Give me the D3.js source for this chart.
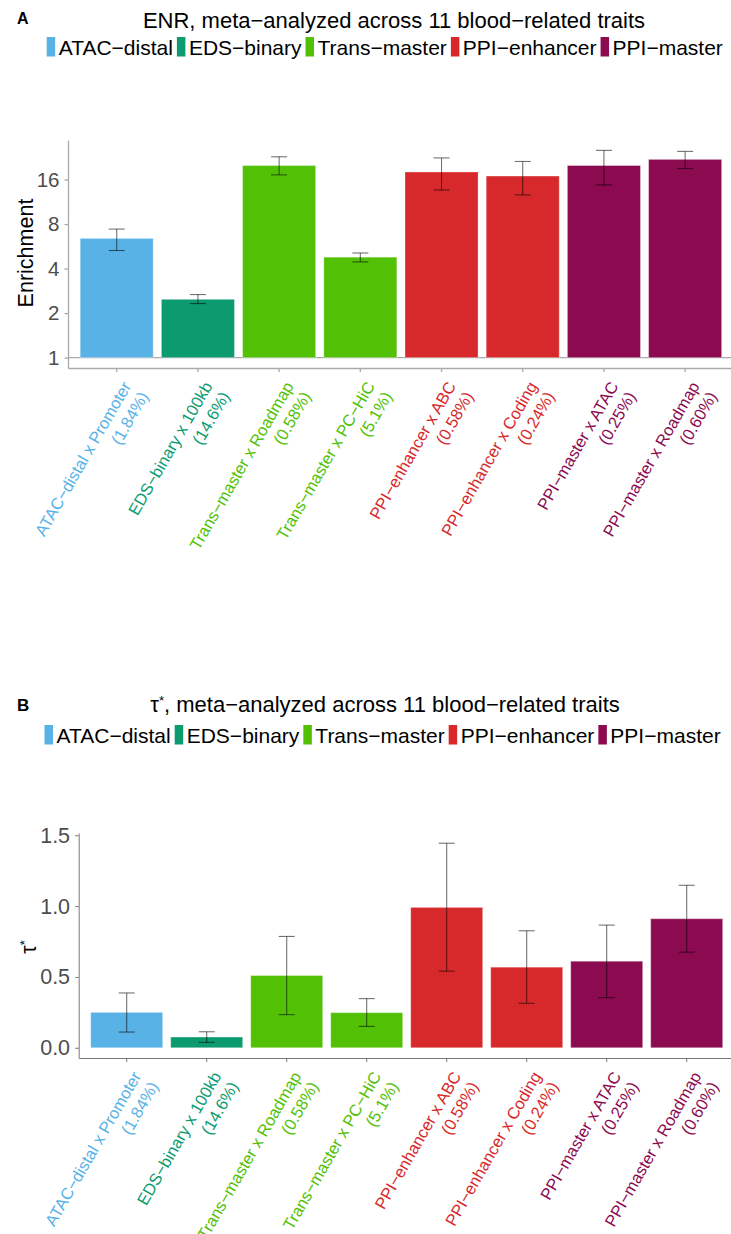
<!DOCTYPE html>
<html>
<head>
<meta charset="utf-8">
<script src="https://cdn.jsdelivr.net/npm/d3@7/dist/d3.min.js"></script>
<style>
  body { margin: 0; background: #fff; }
  svg { display: block; font-family: "Liberation Sans", Arial, Helvetica, sans-serif; }
</style>
</head>
<body>
<svg id="chart" width="731" height="1234"></svg>
<script>
const categories = ['ATAC−distal', 'EDS−binary', 'Trans−master', 'PPI−enhancer', 'PPI−master'];
const palette = ['#58B2E6', '#0B9B6F', '#52C106', '#D7292B', '#8B0A50'];

const annotations = [
  'ATAC−distal x Promoter', 'EDS−binary x 100kb', 'Trans−master x Roadmap', 'Trans−master x PC−HiC',
  'PPI−enhancer x ABC', 'PPI−enhancer x Coding', 'PPI−master x ATAC', 'PPI−master x Roadmap'
];
const annotGroup = ['ATAC−distal', 'EDS−binary', 'Trans−master', 'Trans−master',
  'PPI−enhancer', 'PPI−enhancer', 'PPI−master', 'PPI−master'];
const annotShare = ['1.84%', '14.6%', '0.58%', '5.1%', '0.58%', '0.24%', '0.25%', '0.60%'];

// panel A: enrichment (log2 axis)
const enrValues = [6.4, 2.48, 19.9, 4.78, 18.0, 16.9, 19.9, 21.9];
const enrLower = [5.3, 2.32, 17.2, 4.44, 13.6, 12.6, 14.7, 19.0];
const enrUpper = [7.4, 2.67, 22.8, 5.1, 22.4, 21.2, 25.2, 24.8];
const enrTicks = [1, 2, 4, 8, 16];

// panel B: tau*
const tauValues = [0.25, 0.076, 0.51, 0.248, 0.991, 0.569, 0.611, 0.911];
const tauLower = [0.111, 0.038, 0.234, 0.151, 0.541, 0.314, 0.354, 0.675];
const tauUpper = [0.387, 0.113, 0.786, 0.347, 1.444, 0.826, 0.866, 1.147];
const tauTicks = [0, 0.5, 1.0, 1.5];

let svg = d3.select('#chart');
let color = d3.scaleOrdinal().domain(categories).range(palette);

function tauLabel(sel) {
  sel.append('tspan').text('τ');
  sel.append('tspan').attr('baseline-shift', 'super').attr('font-size', '0.6em').text('*');
}

function drawPanel(cfg) {
  let g = svg.append('g');

  g.append('text')
    .attr('x', 17).attr('y', cfg.letterY)
    .attr('font-weight', 'bold').attr('font-size', cfg.letterSize)
    .text(cfg.letter);

  let title = g.append('text')
    .attr('x', cfg.titleX).attr('y', cfg.titleY)
    .attr('text-anchor', 'middle').attr('font-size', 22);
  if (cfg.titleTau) {
    tauLabel(title);
    title.append('tspan').text(', meta−analyzed across 11 blood−related traits');
  } else {
    title.text('ENR, meta−analyzed across 11 blood−related traits');
  }

  // legend row, laid out from measured text widths
  let lx = cfg.legendX;
  categories.forEach(c => {
    g.append('rect')
      .attr('x', lx).attr('y', cfg.legendY - 10)
      .attr('width', 8.5).attr('height', 19.5)
      .attr('fill', color(c));
    let t = g.append('text')
      .attr('x', lx + 12).attr('y', cfg.legendY + 7.5)
      .attr('font-size', 21)
      .text(c);
    lx += 12 + t.node().getComputedTextLength() + 4;
  });

  let x = d3.scaleBand()
    .domain(annotations)
    .range([cfg.left, cfg.left + 8.2 * cfg.step])
    .paddingInner(0.1)
    .paddingOuter(0.15);

  let y = cfg.yScale;

  // axes
  let yAxis = g.append('g')
    .attr('transform', 'translate(' + cfg.left + ',0)')
    .call(d3.axisLeft(y).tickValues(cfg.ticks).tickSize(3.5).tickSizeOuter(0).tickFormat(cfg.tickFormat));
  let xAxis = g.append('g')
    .attr('transform', 'translate(0,' + cfg.bottom + ')')
    .call(d3.axisBottom(x).tickSize(4).tickSizeOuter(0).tickFormat(''));
  [yAxis, xAxis].forEach(a => {
    a.select('.domain').attr('stroke', cfg.axisColor).attr('stroke-width', cfg.axisWidth);
    a.selectAll('.tick line').attr('stroke', cfg.axisColor).attr('stroke-width', cfg.axisWidth);
  });
  yAxis.selectAll('.tick text')
    .attr('font-size', cfg.tickSize)
    .attr('fill', '#4d4d4d')
    .attr('font-family', null)
    .attr('dx', '-0.1em');

  if (cfg.baseLine) {
    g.append('line')
      .attr('x1', cfg.left).attr('x2', x.range()[1])
      .attr('y1', y(cfg.base)).attr('y2', y(cfg.base))
      .attr('stroke', cfg.axisColor).attr('stroke-width', cfg.axisWidth);
  }

  // bars
  g.selectAll('rect.bar')
    .data(annotations)
    .enter()
    .append('rect')
    .attr('class', 'bar')
    .attr('x', d => x(d))
    .attr('width', x.bandwidth())
    .attr('y', (d, i) => y(cfg.values[i]))
    .attr('height', (d, i) => y(cfg.base) - y(cfg.values[i]))
    .attr('fill', (d, i) => color(annotGroup[i]))
    .attr('stroke', '#fff')
    .attr('stroke-opacity', 0.35)
    .attr('stroke-width', 1);

  // error bars
  let err = g.selectAll('g.err')
    .data(annotations)
    .enter()
    .append('g')
    .attr('class', 'err')
    .attr('transform', d => 'translate(' + (x(d) + x.bandwidth() / 2) + ',0)')
    .attr('stroke', '#000')
    .attr('stroke-opacity', 0.55)
    .attr('stroke-width', 1.1);
  err.append('line')
    .attr('y1', (d, i) => y(cfg.lower[i]))
    .attr('y2', (d, i) => y(cfg.upper[i]));
  err.append('line')
    .attr('x1', -8).attr('x2', 8)
    .attr('y1', (d, i) => y(cfg.lower[i]))
    .attr('y2', (d, i) => y(cfg.lower[i]));
  err.append('line')
    .attr('x1', -8).attr('x2', 8)
    .attr('y1', (d, i) => y(cfg.upper[i]))
    .attr('y2', (d, i) => y(cfg.upper[i]));

  // rotated category labels
  let labels = g.selectAll('text.xlab')
    .data(annotations)
    .enter()
    .append('text')
    .attr('class', 'xlab')
    .attr('transform', d => 'translate(' + (x(d) + x.bandwidth() / 2) + ',' + cfg.bottom + ') rotate(-60)')
    .attr('text-anchor', 'end')
    .attr('font-size', 16.5)
    .attr('fill', (d, i) => color(annotGroup[i]));
  labels.append('tspan').attr('x', -8).attr('y', 22).text(d => d);
  labels.append('tspan').attr('x', -8).attr('y', 42).text((d, i) => '(' + annotShare[i] + ')');

  // y title
  let yt = g.append('text')
    .attr('transform', 'translate(' + cfg.yTitleX + ',' + cfg.yTitleY + ') rotate(-90)')
    .attr('text-anchor', 'middle')
    .attr('font-size', 21.5);
  if (cfg.titleTau) tauLabel(yt);
  else yt.text('Enrichment');
}

// log2 scale with 5% expansion, as ggplot does
let enrExt = [Math.log2(1), Math.log2(d3.max(enrUpper))];
let enrPad = (enrExt[1] - enrExt[0]) * 0.05;
let yEnr = d3.scaleLog().base(2)
  .domain([Math.pow(2, enrExt[0] - enrPad), Math.pow(2, enrExt[1] + enrPad)])
  .range([368, 140]);

let tauPad = d3.max(tauUpper) * 0.05;
let yTau = d3.scaleLinear()
  .domain([-tauPad, d3.max(tauUpper) + tauPad])
  .range([1058, 833]);

drawPanel({
  letter: 'A', letterY: 24, letterSize: 16, titleX: 394, titleY: 28, legendX: 46.7, legendY: 47,
  left: 68, bottom: 368, step: 81.2, yScale: yEnr, base: 1, baseLine: true,
  values: enrValues, lower: enrLower, upper: enrUpper,
  ticks: enrTicks, tickFormat: d3.format('d'), tickSize: 20.5,
  axisColor: '#aaa', axisWidth: 1.3, yTitleX: 33, yTitleY: 253
});

drawPanel({
  letter: 'B', letterY: 711, letterSize: 17, titleX: 385, titleY: 712, titleTau: true, legendX: 44.5, legendY: 735,
  left: 78.7, bottom: 1058, step: 80, yScale: yTau, base: 0, baseLine: false,
  values: tauValues, lower: tauLower, upper: tauUpper,
  ticks: tauTicks, tickFormat: d3.format('.1f'), tickSize: 21.5,
  axisColor: '#777', axisWidth: 1, yTitleX: 36, yTitleY: 947
});
</script>
</body>
</html>
